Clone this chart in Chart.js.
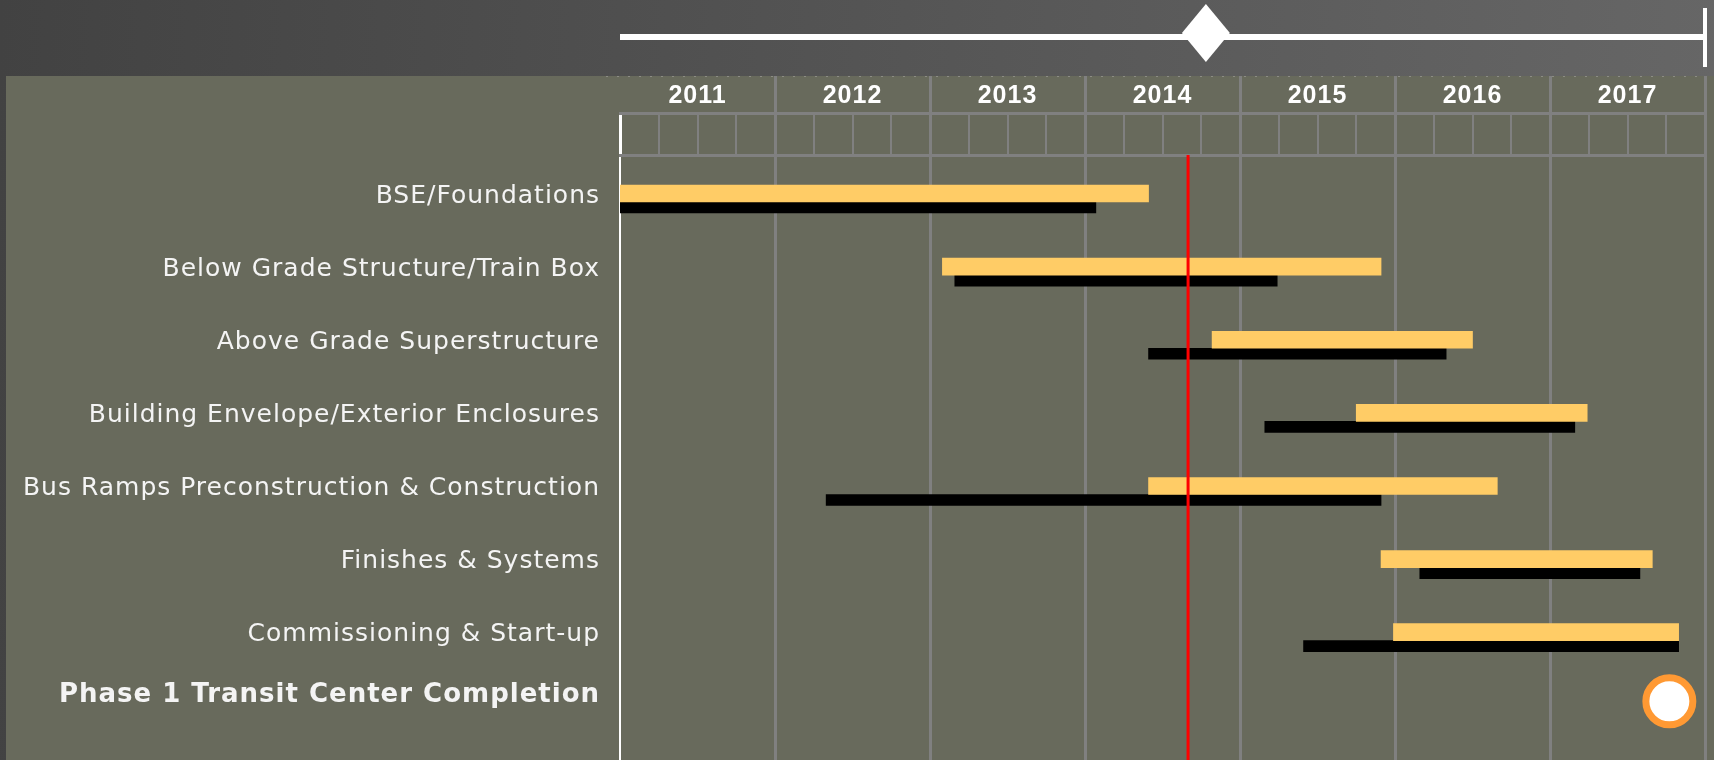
<!DOCTYPE html>
<html>
<head>
<meta charset="utf-8">
<script src="https://cdn.jsdelivr.net/npm/chart.js@4.4.1/dist/chart.umd.min.js"></script>
<style>
  html, body { margin:0; padding:0; background:#4a4a4a; }
  #wrap { position:relative; width:1714px; height:760px; }
</style>
</head>
<body>
<div id="wrap"><canvas id="gantt"></canvas></div>
<script>
// rows, top to bottom (last one is the milestone)
const ROWS = ['BSE/Foundations', 'Below Grade Structure/Train Box', 'Above Grade Superstructure',
  'Building Envelope/Exterior Enclosures', 'Bus Ramps Preconstruction & Construction',
  'Finishes & Systems', 'Commissioning & Start-up', 'Phase 1 Transit Center Completion'];
// milestone row sits a little closer to the last task than the task rows do to each other
const ROW_POS = [0, 1, 2, 3, 4, 5, 6, 6.83];
const YEARS = [2011, 2012, 2013, 2014, 2015, 2016, 2017];
const QUARTERS = [0, 0.25, 0.5, 0.75];

// decimal years; yellow = current schedule, black = baseline
const CURRENT_START = [2011.00, 2013.08, 2014.82, 2015.75, 2014.41, 2015.91, 2015.99];
const CURRENT_END   = [2014.41, 2015.91, 2016.50, 2017.24, 2016.66, 2017.66, 2017.83];
const BASE_START    = [2011.00, 2013.16, 2014.41, 2015.16, 2012.33, 2016.16, 2015.41];
const BASE_END      = [2014.07, 2015.24, 2016.33, 2017.16, 2015.91, 2017.58, 2017.83];
const MILESTONE_DATE = 2017.77;
const STATUS_DATE = 2014.665;
const PROGRESS_DATE = 2014.78;

const Y_MIN = -0.643, Y_MAX = 7.632;
const GRID = '#808080';
const LABEL_FONT = '"DejaVu Sans", Verdana, sans-serif';

const taskIdx = ROWS.slice(0, 7).map((r, i) => i);

const backdrop = {
  id: 'backdrop',
  beforeDraw(chart) {
    const {ctx, width, height} = chart;
    const top = chart.scales.xYear.top;
    ctx.save();
    const g = ctx.createLinearGradient(0, 0, width, top);
    g.addColorStop(0, '#424242');
    g.addColorStop(1, '#666666');
    ctx.fillStyle = g;
    ctx.fillRect(0, 0, width, height);
    ctx.fillStyle = '#686a5c';
    ctx.fillRect(6, top, width - 6, height - top);
    // dotted rule along the top of the header
    ctx.strokeStyle = '#8c8c84';
    ctx.lineWidth = 1;
    ctx.setLineDash([2, 9]);
    ctx.beginPath();
    ctx.moveTo(chart.chartArea.left - 14, top + 0.5);
    ctx.lineTo(chart.chartArea.right, top + 0.5);
    ctx.stroke();
    ctx.restore();
    // the labels in the original are slightly tracked
    ctx.letterSpacing = '1px';
  },
  afterDraw(chart) {
    const {ctx} = chart;
    ctx.letterSpacing = '0px';
    const x = chart.scales.x;
    const top = chart.scales.xYear.top;
    const y = top / 2 - 1;
    const x0 = x.getPixelForValue(x.min), x1 = x.getPixelForValue(x.max);
    ctx.save();
    ctx.fillStyle = '#ffffff';
    ctx.fillRect(x0, y - 3, x1 - x0, 6);
    ctx.fillRect(x1 - 2, 8, 4, top - 17);
    // progress marker
    const px = x.getPixelForValue(PROGRESS_DATE);
    const cy = y - 4;
    ctx.beginPath();
    ctx.moveTo(px, cy - 29);
    ctx.lineTo(px + 24, cy);
    ctx.lineTo(px, cy + 29);
    ctx.lineTo(px - 24, cy);
    ctx.closePath();
    ctx.fill();
    ctx.restore();
  }
};

new Chart(document.getElementById('gantt'), {
  type: 'bar',
  plugins: [backdrop],
  data: {
    datasets: [
      {
        type: 'line', label: 'Status date', order: -2,
        data: [{x: STATUS_DATE, y: Y_MIN}, {x: STATUS_DATE, y: Y_MAX}],
        borderColor: '#ff0000', borderWidth: 3, pointRadius: 0
      },
      {
        type: 'line', label: 'Completion', order: -1, showLine: false, clip: false,
        data: [{x: MILESTONE_DATE, y: ROW_POS[7]}],
        pointRadius: 23.5, pointBorderWidth: 7, pointHoverRadius: 23.5,
        pointBackgroundColor: '#ffffff', pointBorderColor: '#ff9933'
      },
      {
        label: 'Current', barThickness: 17, backgroundColor: '#ffcc66', borderWidth: 0,
        data: taskIdx.map(i => ({y: ROW_POS[i], x: [CURRENT_START[i], CURRENT_END[i]]}))
      },
      {
        label: 'Baseline', barThickness: 11, backgroundColor: '#000000', borderWidth: 0,
        data: taskIdx.map(i => ({y: ROW_POS[i], x: [BASE_START[i], BASE_END[i]]}))
      }
    ]
  },
  options: {
    indexAxis: 'y',
    responsive: true, maintainAspectRatio: false,
    animation: false,
    layout: { autoPadding: false, padding: { top: 76, right: 9, left: 0, bottom: 0 } },
    plugins: { legend: { display: false }, tooltip: { enabled: false } },
    scales: {
      y: {
        type: 'linear', reverse: true, min: Y_MIN, max: Y_MAX, bounds: 'data', offset: false,
        afterBuildTicks: s => { s.ticks = ROW_POS.map(v => ({value: v})); },
        afterFit: s => { s.width = 620; s.paddingTop = 0; s.paddingBottom = 0; },
        grid: { display: false, drawTicks: false, offset: false },
        border: { display: true, color: '#ffffff', width: 2 },
        ticks: {
          padding: 20, labelOffset: -6, color: '#f4f4f4', autoSkip: false,
          callback: (v, i) => ROWS[i],
          font: c => c.index === 7
            ? {family: LABEL_FONT, size: 26, weight: 'bold'}
            : {family: LABEL_FONT, size: 25}
        }
      },
      x: {
        type: 'linear', position: 'top', min: 2011, max: 2018, bounds: 'data', weight: 1, beginAtZero: false,
        afterBuildTicks: s => {
          const t = [];
          YEARS.forEach(yr => QUARTERS.forEach(q => t.push({value: yr + q})));
          t.push({value: 2018});
          s.ticks = t;
        },
        afterFit: s => { s.height = 42; s.paddingLeft = 0; s.paddingRight = 0; },
        ticks: { display: false, autoSkip: false },
        grid: {
          drawOnChartArea: false, drawTicks: true, tickLength: 42,
          color: GRID, tickColor: c => c.index === 0 ? '#ffffff' : GRID,
          lineWidth: c => c.index % 4 === 0 ? 3 : 2
        },
        border: { display: true, color: GRID, width: 3 }
      },
      xYear: {
        type: 'linear', position: 'top', display: true, min: 2011, max: 2018, bounds: 'data', weight: 2,
        afterBuildTicks: s => { s.ticks = YEARS.map(yr => ({value: yr + 0.5})); },
        afterFit: s => { s.height = 37; s.paddingLeft = 0; s.paddingRight = 0; },
        ticks: {
          padding: -35, color: '#ffffff', maxRotation: 0, autoSkip: false,
          font: {family: '"Liberation Sans", Arial, sans-serif', size: 25, weight: 'bold'},
          callback: v => String(Math.floor(v))
        },
        grid: {
          offset: true, drawOnChartArea: true, drawTicks: true, tickLength: 37, lineWidth: 3,
          color: c => c.index === 0 ? 'rgba(0,0,0,0)' : GRID,
          tickColor: c => c.index === 0 ? 'rgba(0,0,0,0)' : GRID
        },
        border: { display: true, color: GRID, width: 3 }
      }
    }
  }
});
</script>
</body>
</html>
